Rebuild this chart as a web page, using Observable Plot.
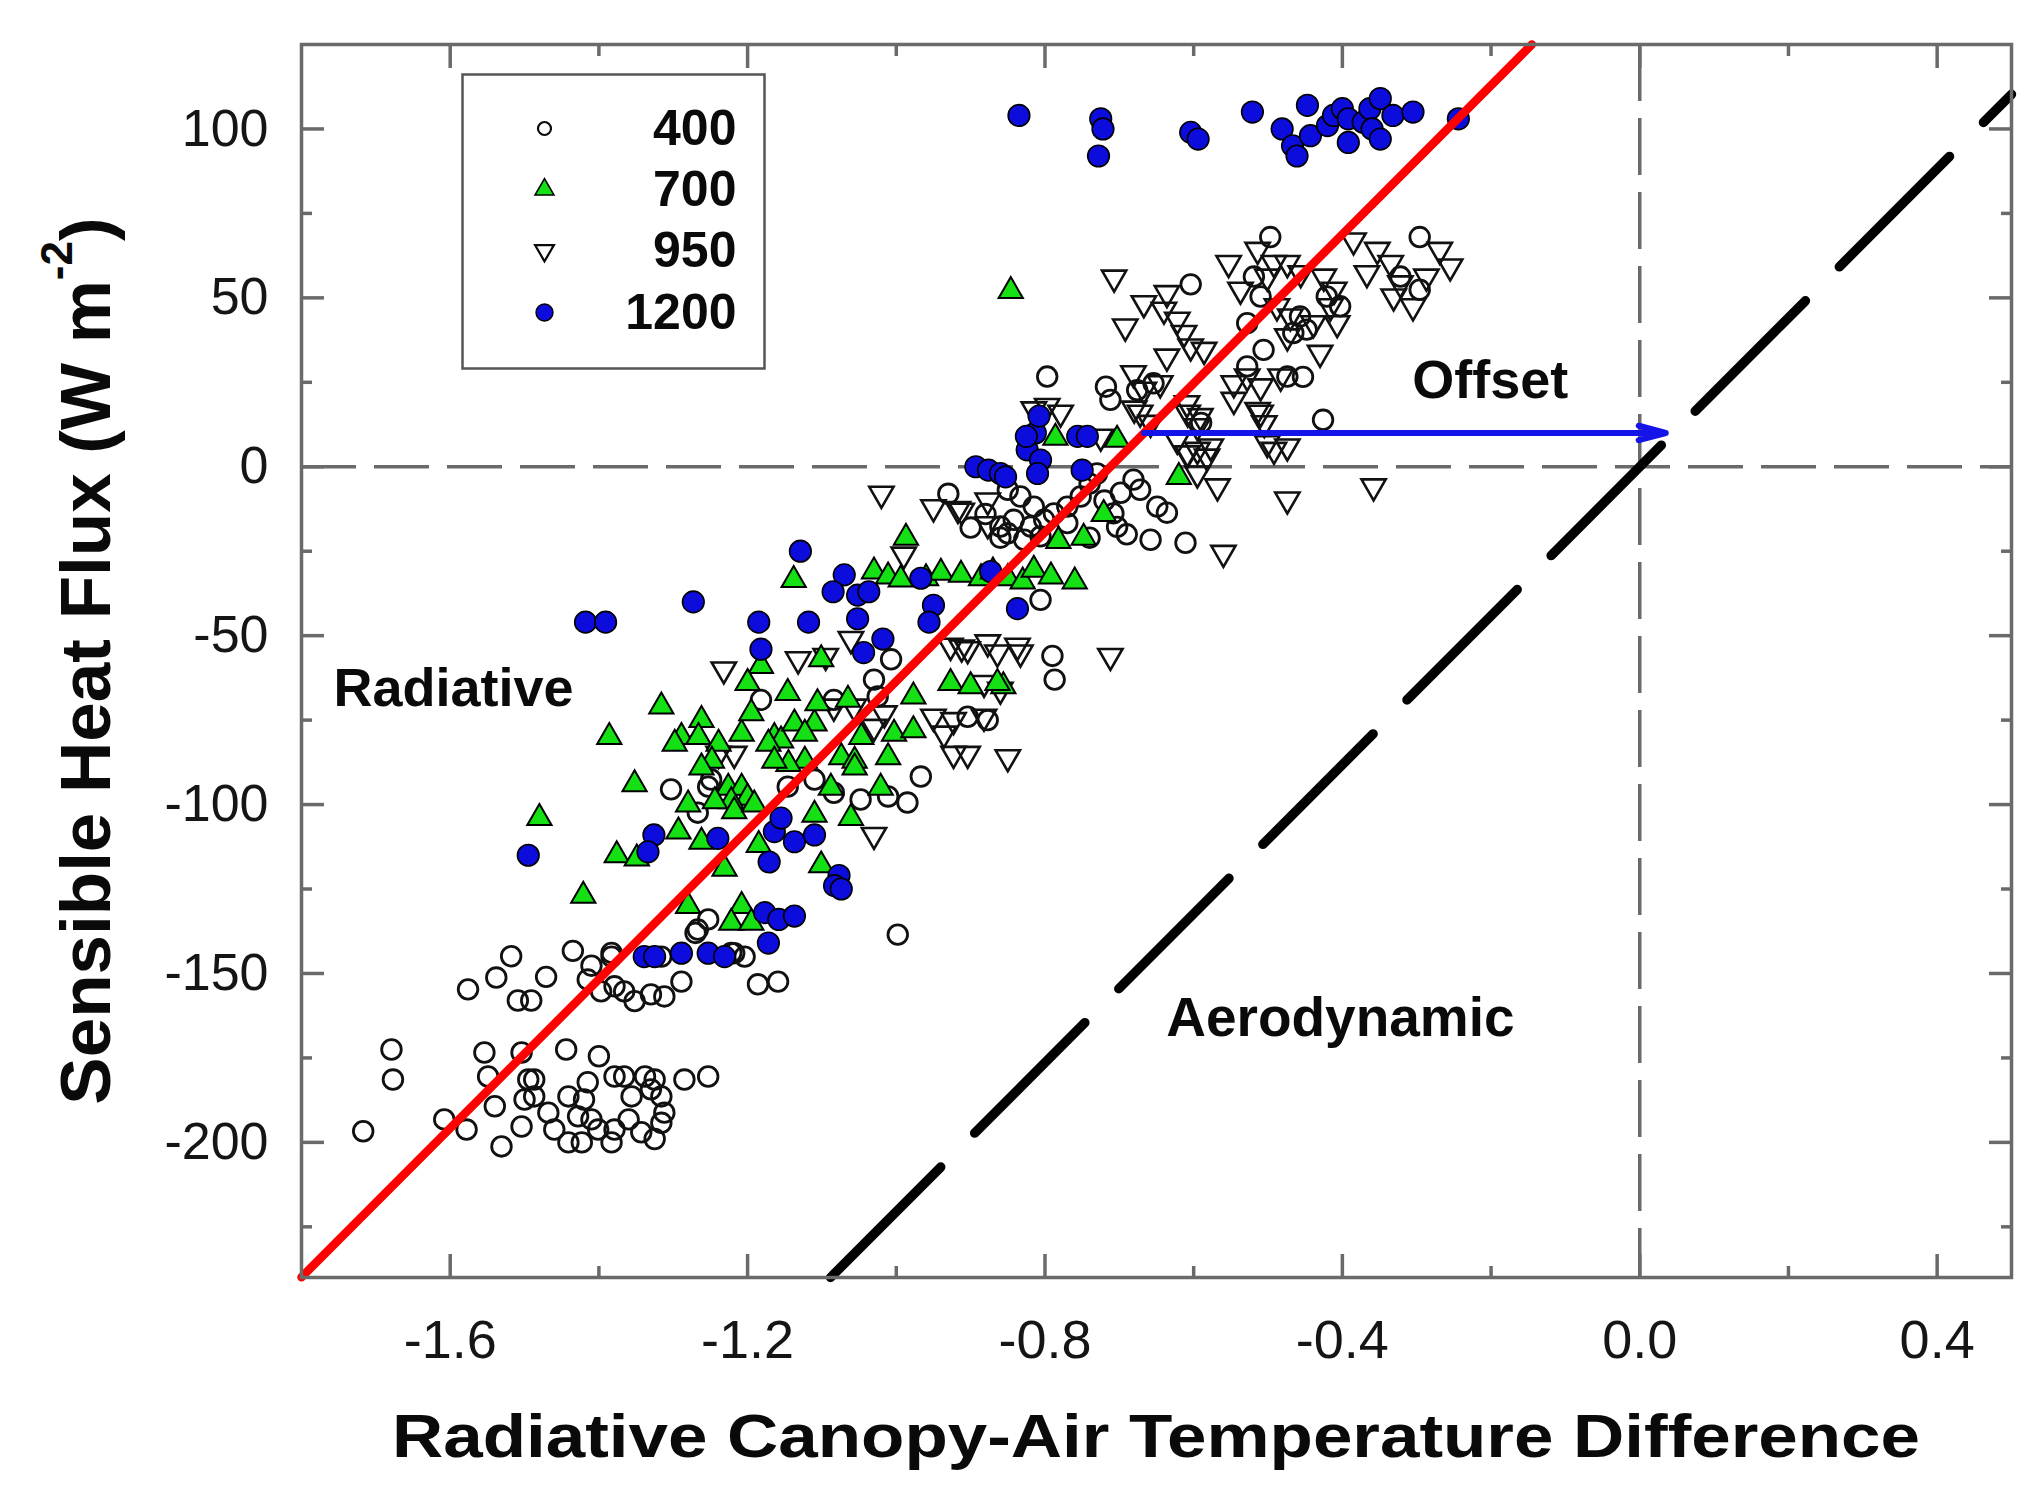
<!DOCTYPE html>
<html>
<head>
<meta charset="utf-8">
<script src="https://cdn.jsdelivr.net/npm/d3@7"></script>
<script src="https://cdn.jsdelivr.net/npm/@observablehq/plot@0.6"></script>
<style>
  html, body { margin: 0; padding: 0; background: #fff; }
  #chart { width: 2037px; height: 1494px; overflow: hidden; }
</style>
</head>
<body>
<div id="chart"></div>
<script>
// ---------------- data ----------------
// series 400 : open circles
const pts400 = [
  [-1.717,-196.7],[-1.679,-172.5],[-1.677,-181.4],[-1.608,-193.2],[-1.578,-196.2],[-1.576,-154.7],
  [-1.554,-173.4],[-1.549,-180.5],[-1.54,-189.3],[-1.538,-151.2],[-1.531,-201.2],[-1.518,-144.9],
  [-1.509,-158],[-1.504,-173.4],[-1.504,-195.3],[-1.5,-187.3],[-1.495,-181.4],[-1.491,-158],
  [-1.487,-181.4],[-1.487,-186.4],[-1.471,-151],[-1.468,-191.2],[-1.46,-196.2],[-1.444,-172.5],
  [-1.441,-186.4],[-1.441,-200],[-1.435,-143.3],[-1.428,-192.3],[-1.423,-200],[-1.42,-187.3],
  [-1.415,-182.2],[-1.415,-151.8],[-1.41,-147.7],[-1.41,-193.2],[-1.401,-196.2],[-1.4,-174.5],
  [-1.397,-155.3],[-1.383,-143.9],[-1.383,-200],[-1.379,-153.8],[-1.379,-196.2],[-1.379,-180.5],
  [-1.366,-155.3],[-1.366,-180.5],[-1.36,-193.2],[-1.356,-186.4],[-1.352,-158.2],[-1.343,-197],
  [-1.338,-180.5],[-1.33,-156.2],[-1.33,-184.3],[-1.325,-181.4],[-1.325,-199],[-1.316,-186.4],
  [-1.316,-194.2],[-1.312,-156.8],[-1.312,-191.2],[-1.289,-152.4],[-1.285,-181.4],[-1.267,-137],
  [-1.253,-180.5],[-1.222,-143.9],[-1.204,-145],[-1.186,-153.2],[-1.159,-152.4],
  [-1.383,-145],[-1.316,-145],[-1.218,-144],[-1.27,-138],[-1.253,-134],[-0.998,-138.5],
  [-1.303,-95.5],[-1.267,-102.4],[-1.253,-94.7],[-1.249,-92.6],[-1.146,-94.7],[-1.11,-92.6],
  [-1.084,-96.5],[-1.048,-98.5],[-1.011,-97.6],[-0.985,-99.4],[-0.967,-91.7],
  [-1.182,-69],[-1.084,-69],[-1.025,-68],[-1.03,-63],[-1.007,-57],[-0.904,-74],[-0.877,-75],
  [-0.79,-56],[-0.787,-63],[-0.806,-39.4],
  [-0.86,-17.7],[-0.86,-21],[-0.85,-6.8],[-0.833,-8.8],[-0.815,-11.8],[-0.842,-15.7],[-0.819,-17.7],
  [-0.801,-15.7],[-0.788,-13.8],[-0.77,-11.8],[-0.752,-8.8],[-0.77,-16.7],[-0.85,-19.7],[-0.828,-21.6],
  [-0.806,-20.6],[-0.73,-2],[-0.74,-5],[-0.72,-10],[-0.703,-17.8],[-0.708,-13.8],[-0.681,-3.8],
  [-0.698,-7.7],[-0.672,-6.8],[-0.636,-13.6],[-0.649,-11.8],[-0.658,-21.6],[-0.611,-22.5],
  [-0.69,-20],[-0.74,-21],[-0.93,-8],[-0.9,-18],[-0.88,-14],
  [-0.797,26.7],[-0.718,23.7],[-0.712,19.8],[-0.676,22.7],[-0.654,24.7],[-0.59,13],[-0.426,13.9],
  [-0.604,54],[-0.528,42.5],[-0.528,29.7],[-0.519,56.3],[-0.51,50.4],[-0.506,34.6],[-0.497,68],
  [-0.474,26.7],[-0.466,39.6],[-0.457,44.5],[-0.453,26.6],[-0.448,40.6],[-0.421,50.4],[-0.403,47.5],
  [-0.322,56.3],[-0.296,68],[-0.296,52.4]
];

// series 700 : green triangles
const pts700 = [
  [-0.846,52],[-0.987,-21],[-1.138,-33.5],
  [-1.03,-31],[-1.011,-32.5],[-0.994,-33.4],[-0.96,-33],[-0.94,-31.4],[-0.913,-32],[-0.886,-33],
  [-0.87,-31],[-0.85,-33],[-0.83,-34],[-0.815,-30.5],[-0.792,-32.5],[-0.76,-34],
  [-0.786,8.6],[-0.703,8],[-0.62,-3],[-0.721,-14],[-0.748,-21],[-0.782,-22],[-0.856,-65],
  [-1.182,-59],[-1.2,-64],[-1.146,-67],[-1.101,-57],[-1.316,-71],[-1.386,-80],[-1.262,-75],
  [-1.289,-80],[-1.298,-82],[-1.266,-80],[-1.239,-82],[-1.208,-79],[-1.195,-73],[-1.164,-80],
  [-1.155,-81],[-1.172,-82],[-1.137,-76],[-1.11,-76],[-1.123,-79],[-1.106,-70],[-1.065,-69],
  [-0.977,-68],[-0.927,-64],[-0.9,-65],[-0.864,-64],[-1.003,-79],[-0.977,-78],[-1.011,-86],
  [-1.074,-86],[-1.056,-87],[-1.056,-89],[-1.047,-80],[-1.123,-87],[-1.145,-88],[-1.164,-87],
  [-1.088,-95],[-1.021,-95],[-1.248,-87],[-1.262,-89],[-1.352,-94],[-1.226,-95],[-1.208,-95],
  [-1.2,-98],[-1.222,-99],[-1.244,-99],[-1.28,-100],[-1.218,-102],[-1.191,-100],[-1.11,-103],
  [-1.061,-104],[-1.293,-108],[-1.262,-111],[-1.185,-112],[-1.376,-115],[-1.349,-116],[-1.101,-118],
  [-1.231,-119],[-1.28,-130],[-1.208,-130],[-1.222,-135],[-1.195,-135],[-1.48,-104],[-1.421,-127]
];

// series 950 : open inverted triangles
const pts950 = [
  [-0.707,56],[-0.692,41.5],[-0.667,48.4],[-0.636,51.4],[-0.64,46.5],[-0.622,43.5],[-0.613,39.6],
  [-0.604,35.6],[-0.636,32.6],[-0.586,34.6],[-0.553,60.3],[-0.537,52.4],[-0.514,64.2],[-0.492,60.3],
  [-0.474,60.3],[-0.501,56.3],[-0.456,57.3],[-0.425,56.3],[-0.411,52.4],[-0.416,47.5],[-0.407,42.5],
  [-0.439,42.5],[-0.47,44.5],[-0.488,47.5],[-0.43,33.7],[-0.474,38.6],[-0.385,67],[-0.353,64.2],
  [-0.367,57.3],[-0.335,60.3],[-0.322,54.3],[-0.305,47.5],[-0.287,56.3],[-0.269,64.2],[-0.255,59.3],
  [-0.331,50.4],[-0.681,27.7],[-0.667,22.8],[-0.645,24.7],[-0.546,24.7],[-0.528,26.7],[-0.51,23.8],
  [-0.483,26.7],[-0.546,19.8],[-0.514,16.8],[-0.505,12.9],[-0.492,5],[-0.474,6],[-0.577,6],
  [-0.568,-5.8],[-0.358,-5.8],[-0.474,-9.7],[-0.609,18.8],[-0.595,12],[-0.501,7],[-0.56,-25.5],
  [-0.595,5],[-0.582,3],[-0.608,16],[-0.591,15],[-0.51,16],[-0.815,17],[-0.797,18],[-0.779,16],
  [-0.672,16],[-0.658,13],[-0.725,8.9],[-0.622,8],[-0.608,4],[-0.68,17.2],[-0.609,4],[-0.595,-2],
  [-1.02,-8],[-0.95,-12],[-0.917,-12.5],[-0.877,-10],[-0.912,-13],[-0.877,-17],[-0.99,-26],
  [-0.833,-55],[-0.712,-56],[-0.85,-86],
  [-1.232,-60],[-1.132,-57],[-1.061,-51],[-0.927,-53],[-0.904,-54],[-0.864,-55],[-0.837,-53],
  [-0.882,-64],[-0.86,-66],[-1.084,-71],[-1.057,-71],[-1.03,-77],[-1.016,-73],[-0.95,-74],
  [-0.923,-75],[-0.882,-74],[-0.936,-79],[-0.923,-85],[-0.904,-85],[-1.03,-109],[-1.239,-85],
  [-1.218,-85],[-1.095,-56],[-0.912,-53.5],[-0.877,-52]
];

// series 1200 : blue filled circles
const pts1200 = [
  [-0.835,104],[-0.725,103],[-0.722,100],[-0.728,92],[-0.604,99],[-0.594,97],[-0.521,105],
  [-0.481,100],[-0.467,95],[-0.461,92],[-0.447,107],[-0.443,98],[-0.42,101],[-0.412,104],[-0.4,106],
  [-0.392,103],[-0.392,96],[-0.372,102],[-0.363,106],[-0.36,100],[-0.349,109],[-0.349,97],
  [-0.332,104],[-0.305,105],[-0.244,103],
  [-0.893,0],[-0.876,-1],[-0.86,-2],[-0.853,-3],[-0.824,5],[-0.813,10],[-0.806,2],[-0.81,-2],
  [-0.808,15],[-0.756,9],[-0.743,9],[-0.75,-1],[-0.825,9],
  [-1.129,-25],[-1.273,-40],[-1.418,-46],[-1.391,-46],[-1.07,-32],[-1.085,-37],[-1.052,-38],
  [-1.037,-37],[-1.185,-46],[-1.118,-46],[-1.052,-45],[-1.182,-54],[-1.018,-51],[-1.044,-55],
  [-0.967,-33],[-0.95,-41],[-0.956,-46],[-0.873,-31],[-0.837,-42],
  [-1.495,-115],[-1.326,-109],[-1.334,-114],[-1.24,-110],[-1.164,-108],[-1.155,-104],[-1.137,-111],
  [-1.11,-109],[-1.171,-117],[-1.077,-121],[-1.083,-124],[-1.074,-125],[-1.177,-132],[-1.158,-134],
  [-1.137,-133],[-1.172,-141],[-1.339,-145],[-1.325,-145],[-1.289,-144],[-1.253,-144],[-1.231,-145]
];

// fitted lines: common slope, x where each line crosses zero
const fitSlope = 220.5;
const radiativeZero = -0.712;
const aerodynamicZero = 0.0;

// offset arrow (from radiative line to aerodynamic line at this flux)
const offsetY = 10;
const offsetFromX = -0.667;
const offsetToX = 0.035;

// axes
const xDomain = [-1.8, 0.5];
const yDomain = [-240, 125];
const xMajorTicks = [-1.6, -1.2, -0.8, -0.4, 0.0, 0.4];
const xMinorTicks = [-1.4, -1.0, -0.6, -0.2, 0.2];
const yMajorTicks = [100, 50, 0, -50, -100, -150, -200];
const yMinorTicks = [75, 25, -25, -75, -125, -175, -225];

// texts
const xTitle = "Radiative Canopy-Air Temperature Difference";
const yTitleMain = "Sensible Heat Flux (W m";
const yTitleSup = "-2";
const noteLabels = ["Radiative", "Offset", "Aerodynamic"];
const noteX = [-1.757, -0.306, -0.637];
const noteY = [-70.7, 20.5, -168.4];
const legendLabels = ["400", "700", "950", "1200"];

// ---------------- helpers ----------------
function lineWithinDomain(zeroX) {
  // y = slope * (x - zeroX), clipped to the x/y domains
  const xAtYmin = yDomain[0] / fitSlope + zeroX;
  const xAtYmax = yDomain[1] / fitSlope + zeroX;
  const xa = Math.max(xDomain[0], xAtYmin);
  const xb = Math.min(xDomain[1], xAtYmax);
  return [xa, xb].map(x => ({x, y: fitSlope * (x - zeroX)}));
}
const radiativeLine = lineWithinDomain(radiativeZero);
const aerodynamicLine = lineWithinDomain(aerodynamicZero);
const notes = noteLabels.map((t, i) => ({t, x: noteX[i], y: noteY[i]}));
const arrowData = [{x1: offsetFromX, x2: offsetToX, y: offsetY}];

const FONT = "'Liberation Sans', Arial, Helvetica, sans-serif";
const AXIS_GRAY = "#6a6a6a";
const INK = "#0a0a0a";
const BLUE = "#0c0cdc";
const GREEN = "#14e014";

// legend marks (positioned relative to the frame's top-left corner)
const legendRowDy = [84, 145, 206, 268];
const legendSymbols = [
  {symbol: "circle", r: 6.5, fill: "none", stroke: INK, strokeWidth: 2.2, rotate: 0},
  {symbol: "triangle", r: 7, fill: GREEN, stroke: "#000", strokeWidth: 1.6, rotate: 0},
  {symbol: "triangle", r: 7, fill: "none", stroke: INK, strokeWidth: 2.2, rotate: 180},
  {symbol: "circle", r: 8.5, fill: BLUE, stroke: "#000", strokeWidth: 1.4, rotate: 0}
];
const legendMarks = legendLabels.flatMap((lab, i) => [
  Plot.dot([lab], {frameAnchor: "top-left", dx: 243, dy: legendRowDy[i], ...legendSymbols[i]}),
  Plot.text([lab], {frameAnchor: "top-left", dx: 435, dy: legendRowDy[i], text: d => d,
    textAnchor: "end", lineAnchor: "middle", fontSize: 50, fontWeight: "bold", fill: INK})
]);

const px = d => d[0], py = d => d[1];

const svg = Plot.plot({
  width: 2037,
  height: 1494,
  marginLeft: 301,
  marginRight: 26,
  marginTop: 44,
  marginBottom: 217,
  x: {domain: xDomain},
  y: {domain: yDomain},
  style: {fontFamily: FONT, background: "white", color: INK, overflow: "visible"},
  marks: [
    // zero reference lines
    Plot.ruleY([0], {stroke: AXIS_GRAY, strokeWidth: 3.5, strokeDasharray: "55,18"}),
    Plot.ruleX([0], {stroke: AXIS_GRAY, strokeWidth: 3.5, strokeDasharray: "57,17"}),

    // scatter series
    Plot.dot(pts400, {x: px, y: py, r: 9.8, fill: "none", stroke: "#111", strokeWidth: 2.8}),
    Plot.dot(pts950, {x: px, y: py, symbol: "triangle", rotate: 180, r: 9, fill: "none", stroke: "#111", strokeWidth: 2.6}),
    Plot.dot(pts700, {x: px, y: py, symbol: "triangle", r: 9, fill: GREEN, stroke: "#000", strokeWidth: 2}),
    Plot.dot(pts1200, {x: px, y: py, r: 10.8, fill: BLUE, stroke: "#000", strokeWidth: 1.6}),

    // fitted lines
    Plot.line(radiativeLine, {x: "x", y: "y", stroke: "#ff0000", strokeWidth: 8.5}),
    Plot.line(aerodynamicLine, {x: "x", y: "y", stroke: "#000", strokeWidth: 9.5, strokeDasharray: "156,48"}),

    // offset arrow
    Plot.arrow(arrowData, {x1: "x1", x2: "x2", y1: "y", y2: "y", stroke: "#1414e8", strokeWidth: 6, headLength: 7, headAngle: 30}),

    // annotations
    Plot.text(notes, {x: "x", y: "y", text: "t", textAnchor: "start", lineAnchor: "bottom",
      fontSize: d => d.t === "Aerodynamic" ? 55 : 54, fontWeight: "bold", fill: INK}),

    // legend box + entries
    Plot.frame({stroke: "#555", strokeWidth: 2.5, fill: "white", insetLeft: 161, insetTop: 30, insetRight: 1247, insetBottom: 909}),
    ...legendMarks,

    // inward ticks on all four sides
    Plot.axisX(xMajorTicks, {anchor: "bottom", tickSize: -23, fill: "none", label: null, stroke: AXIS_GRAY, strokeWidth: 3.5}),
    Plot.axisX(xMinorTicks, {anchor: "bottom", tickSize: -11, fill: "none", label: null, stroke: AXIS_GRAY, strokeWidth: 3.5}),
    Plot.axisX(xMajorTicks, {anchor: "top", tickSize: -23, fill: "none", label: null, stroke: AXIS_GRAY, strokeWidth: 3.5}),
    Plot.axisX(xMinorTicks, {anchor: "top", tickSize: -11, fill: "none", label: null, stroke: AXIS_GRAY, strokeWidth: 3.5}),
    Plot.axisY(yMajorTicks, {anchor: "left", tickSize: -23, fill: "none", label: null, stroke: AXIS_GRAY, strokeWidth: 3.5}),
    Plot.axisY(yMinorTicks, {anchor: "left", tickSize: -11, fill: "none", label: null, stroke: AXIS_GRAY, strokeWidth: 3.5}),
    Plot.axisY(yMajorTicks, {anchor: "right", tickSize: -23, fill: "none", label: null, stroke: AXIS_GRAY, strokeWidth: 3.5}),
    Plot.axisY(yMinorTicks, {anchor: "right", tickSize: -11, fill: "none", label: null, stroke: AXIS_GRAY, strokeWidth: 3.5}),

    // tick labels
    Plot.axisX(xMajorTicks, {anchor: "bottom", tickSize: 0, tickPadding: 42, label: null,
      tickFormat: d => d.toFixed(1), fontSize: 54, fill: "#151515"}),
    Plot.axisY(yMajorTicks, {anchor: "left", tickSize: 0, tickPadding: 33, label: null,
      tickFormat: d => String(d), fontSize: 52, fill: "#151515"}),

    // plot frame
    Plot.frame({stroke: AXIS_GRAY, strokeWidth: 3.5})
  ]
});

// axis titles
const root = d3.select(svg);
root.append("text")
  .attr("x", 1156).attr("y", 1457)
  .attr("text-anchor", "middle")
  .attr("font-family", FONT).attr("font-weight", "bold").attr("font-size", 61)
  .attr("textLength", 1528).attr("lengthAdjust", "spacingAndGlyphs")
  .attr("fill", INK)
  .text(xTitle);

const yt = root.append("text")
  .attr("transform", "translate(110,661) rotate(-90)")
  .attr("text-anchor", "middle")
  .attr("font-family", FONT).attr("font-weight", "bold").attr("font-size", 71)
  .attr("fill", INK);
yt.append("tspan").text(yTitleMain);
yt.append("tspan").attr("dy", -38).attr("font-size", 44).text(yTitleSup);
yt.append("tspan").attr("dy", 38).text(")");

document.getElementById("chart").appendChild(svg);
</script>
</body>
</html>
